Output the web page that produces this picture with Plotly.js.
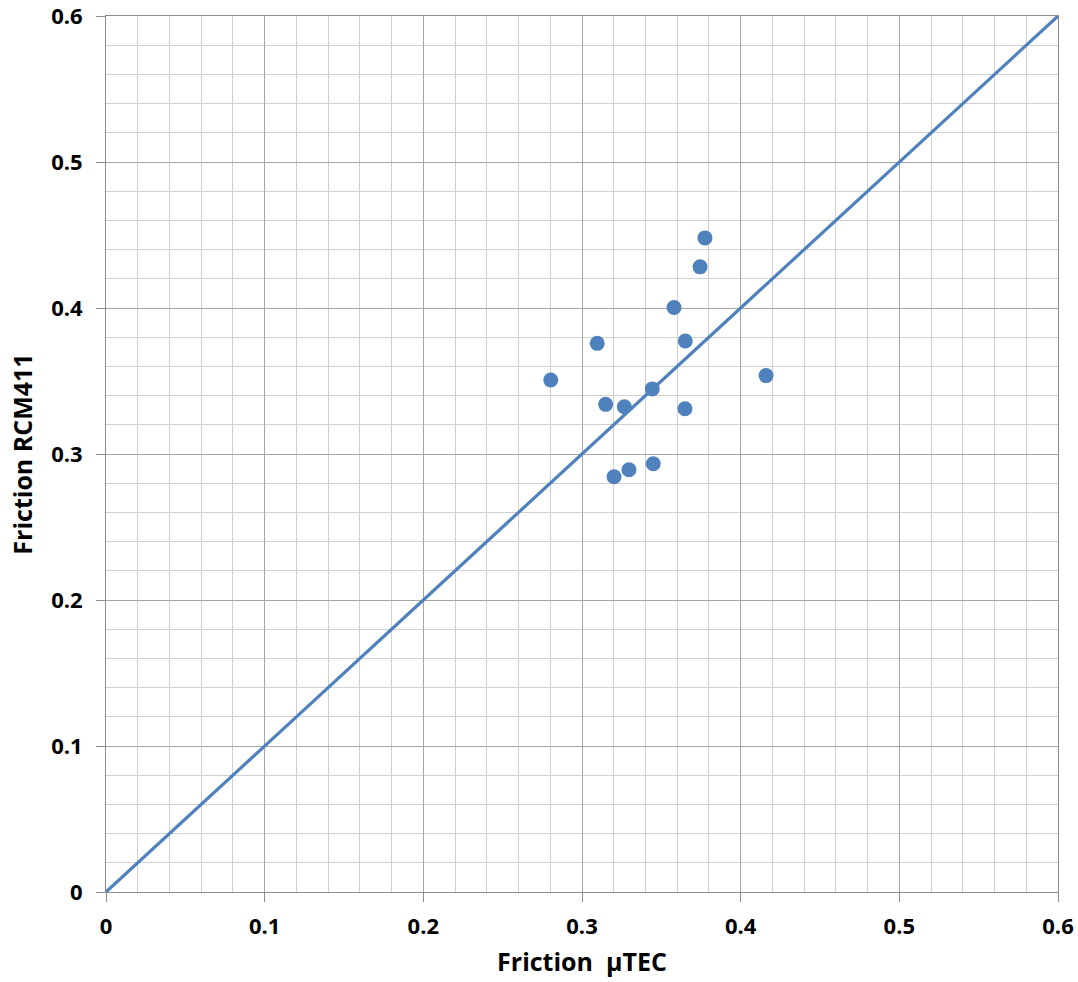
<!DOCTYPE html>
<html>
<head>
<meta charset="utf-8">
<script src="https://cdn.plot.ly/plotly-3.0.1.min.js"></script>
<style>html,body{margin:0;padding:0;background:#fff;}#chart{width:1078px;height:982px;}</style>
</head>
<body>
<div id="chart"></div>
<script>
const frictionTEC = [0.3775, 0.3744, 0.358, 0.3096, 0.3651, 0.2803, 0.416, 0.3443, 0.3149, 0.3267, 0.3649, 0.3449, 0.3296, 0.3202];
const frictionRCM = [0.448, 0.4282, 0.4003, 0.3758, 0.3774, 0.3507, 0.3537, 0.3446, 0.334, 0.3324, 0.331, 0.2933, 0.2892, 0.2844];
const lineX = [0, 0.6];
const lineY = [0, 0.6];
const tickVals = [0, 0.1, 0.2, 0.3, 0.4, 0.5, 0.6];
const tickText = ['0', '0.1', '0.2', '0.3', '0.4', '0.5', '0.6'];

const blue = '#4F81BD';
const fontFam = '"Open Sans", Lato, sans-serif';

const traces = [
  {x: lineX, y: lineY, mode: 'lines', line: {color: blue, width: 3.2}, hoverinfo: 'skip', showlegend: false},
  {x: frictionTEC, y: frictionRCM, mode: 'markers', marker: {color: blue, size: 15, line: {width: 0}}, showlegend: false}
];

function axis(titleText, standoff, labelStandoff) {
  return {
    range: [0, 0.6],
    tickvals: tickVals,
    ticktext: tickText,
    ticks: 'outside',
    ticklen: 9,
    tickwidth: 1,
    tickcolor: '#8c8c8c',
    ticklabelstandoff: labelStandoff,
    ticklabeloverflow: 'allow',
    showline: true,
    linecolor: '#8c8c8c',
    linewidth: 1,
    mirror: true,
    showgrid: true,
    gridcolor: '#a6a6a6',
    gridwidth: 1,
    zeroline: false,
    minor: {dtick: 0.02, showgrid: true, gridcolor: '#d0d0d0', gridwidth: 1, ticks: ''},
    tickfont: {family: fontFam, size: 22, color: '#000', weight: 'bold'},
    title: {text: titleText, font: {family: fontFam, size: 25, color: '#000', weight: 'bold'}, standoff: standoff},
    fixedrange: true
  };
}

const layout = {
  width: 1078,
  height: 982,
  margin: {l: 106, r: 20, t: 16, b: 90, pad: 0},
  paper_bgcolor: '#fff',
  plot_bgcolor: '#fff',
  xaxis: axis('Friction  µTEC', 14, 6),
  yaxis: axis('Friction RCM411', 11, 9),
  showlegend: false
};

Plotly.newPlot('chart', traces, layout, {displayModeBar: false, staticPlot: true});
</script>
</body>
</html>
